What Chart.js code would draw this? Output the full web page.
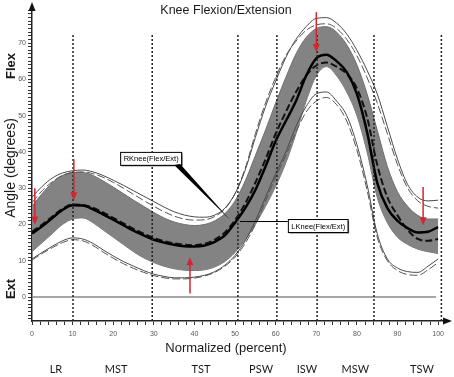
<!DOCTYPE html>
<html>
<head>
<meta charset="utf-8">
<script src="https://cdn.jsdelivr.net/npm/chart.js@4.4.0/dist/chart.umd.min.js"></script>
<style>
html, body { margin: 0; padding: 0; background: #fff; }
#wrap { width: 454px; height: 377px; }
</style>
</head>
<body>
<div id="wrap"><canvas id="knee" width="454" height="377"></canvas></div>
<script>
// gait cycle, percent
const pct = [0, 2.5, 5, 7.5, 10, 12.5, 15, 17.5, 20, 22.5, 25, 27.5, 30, 32.5, 35, 37.5, 40, 42.5, 45, 47.5,
  50, 52.5, 55, 57.5, 60, 62.5, 65, 67.5, 70, 72.5, 75, 77.5, 80, 82.5, 85, 87.5, 90, 92.5, 95, 97.5, 100];

// right knee (thick solid) and left knee (thick dashed)
const rKnee = [17.5, 19.5, 21.8, 24, 25.3, 25.2, 24.2, 22.8, 21.3, 19.8, 18.3, 17, 15.8, 15, 14.4, 14, 13.9, 14.2, 15.2, 17,
  20.5, 24.5, 29.5, 36, 43, 48.5, 54, 61, 65.8, 66.8, 65, 62, 56, 45.5, 31.5, 24.5, 21, 19, 17.8, 18, 19.3];
const lKnee = [18, 20, 22.2, 24.3, 25.5, 25.4, 24.6, 23.3, 21.8, 20.3, 18.8, 17.5, 16.3, 15.4, 14.8, 14.4, 14.3, 14.7, 15.8, 17.8,
  21.2, 25.8, 31.5, 38, 45, 51, 56.5, 61, 63.8, 64.6, 63.5, 61.5, 57.5, 49.5, 36.5, 27.5, 22.5, 18.5, 16, 15.5, 16];

// normal band (grey)
const bandHi = [25, 28.5, 31.5, 33.5, 34.3, 34.3, 33.5, 32, 30.3, 28.5, 26.7, 25, 23.3, 21.8, 20.7, 20, 19.7, 20, 21, 23,
  26.5, 32, 39, 46, 53.5, 60.5, 67, 71.5, 74, 74.5, 73, 69.5, 64, 56, 46, 36, 29, 25, 22.5, 21.5, 21.5];
const bandLo = [12.5, 15, 17.5, 20, 21.5, 21.8, 20.5, 18.5, 16.5, 14.5, 12.5, 10.8, 9.5, 8.5, 7.8, 7.4, 7.3, 7.5, 8.3, 9.8,
  12.3, 15.8, 20, 25, 30.5, 37, 45, 54, 61, 63.5, 61, 56.5, 50, 40, 27.5, 20.5, 16.5, 14.5, 13.2, 12.5, 12];

// thin outer curves
const outerHi = [27.5, 30.5, 32.8, 34.2, 34.8, 35, 34.5, 33.5, 32.2, 30.8, 29.3, 27.8, 26.3, 24.8, 23.5, 22.6, 22.1, 22, 22.6, 24.5,
  28.5, 35, 44, 52.5, 59.5, 66, 71, 74.5, 76.8, 77, 75.5, 72.5, 68, 62.5, 56, 47, 38, 31, 27.5, 26.5, 26.7];
const outerHiDash = [26, 29.3, 31.8, 33.5, 34.3, 34.5, 34, 33, 31.6, 30, 28.3, 26.6, 25, 23.5, 22.3, 21.5, 21.2, 21.3, 22.2, 24.3,
  28.5, 35.5, 45, 53.5, 60.5, 66.5, 70.5, 73.5, 75, 75.3, 74, 71, 66.5, 60.5, 53.5, 45, 36.5, 30, 26.5, 25, 24.5];
const outerLo = [10.5, 12.3, 14, 15.5, 16.3, 16, 14.8, 13, 11.3, 9.8, 8.5, 7.3, 6.3, 5.7, 5.3, 5.3, 5.5, 6, 7, 8.8,
  11.5, 15.5, 21, 27.5, 34, 40, 47, 52.5, 56, 56.5, 54, 50, 42, 31, 17.5, 10.5, 8, 7, 6.8, 8.5, 10.5];
const outerLoDash = [10.2, 12, 13.6, 15, 15.8, 15.5, 14.2, 12.4, 10.7, 9.2, 7.9, 6.8, 5.9, 5.3, 5, 5, 5.2, 5.8, 6.8, 8.5,
  11, 14.8, 20, 26.5, 33, 39, 45.5, 51, 54, 55, 53, 48.5, 40.5, 29.5, 16.5, 10, 7.3, 6.2, 6, 7.5, 9.5];

// gait phase boundaries and names
const phaseX = [10.1, 29.6, 50.7, 60.3, 70.2, 84.2, 100.8];
const phaseNames = ['LR', 'MST', 'TST', 'PSW', 'ISW', 'MSW', 'TSW'];
const phaseNameX = [5.9, 20.7, 41.6, 56.4, 67.7, 79.6, 96];

// red arrows
const arrowX = [0.7, 10.3, 38.9, 70.0, 96.3];
const arrowFrom = [30, 38, 1, 78.5, 30.3];
const arrowTo = [20, 26.7, 11, 67.5, 19.8];

const yMin = -6.6, yMax = 79.1, xMax = 101.2, phaseTop = 72.7;

function pts(ys) { return pct.map((x, i) => ({x: x, y: ys[i]})); }

function curve(label, ys, color, width, dash, order) {
  return {
    label: label, data: pts(ys), borderColor: color, borderWidth: width,
    borderDash: dash || [], pointRadius: 0, fill: false,
    cubicInterpolationMode: 'monotone', order: order
  };
}

const datasets = [
  {label: 'band hi', data: pts(bandHi), borderColor: '#6e6e6e', borderWidth: 1, pointRadius: 0,
   backgroundColor: '#838383', fill: '+1', cubicInterpolationMode: 'monotone', order: 10},
  {label: 'band lo', data: pts(bandLo), borderColor: '#6e6e6e', borderWidth: 1, pointRadius: 0,
   fill: false, cubicInterpolationMode: 'monotone', order: 10},
  {label: 'zero', data: [{x: 0, y: 0}, {x: 99.5, y: 0}], borderColor: '#8a8a8a', borderWidth: 1.5,
   pointRadius: 0, fill: false, order: 9},
  curve('outer hi', outerHi, '#4a4a4a', 1, null, 5),
  curve('outer hi dash', outerHiDash, '#555', 1, [8, 3], 5),
  curve('outer lo', outerLo, '#4a4a4a', 1, null, 5),
  curve('outer lo dash', outerLoDash, '#555', 1, [8, 3], 5),
  curve('LKnee(Flex/Ext)', lKnee, '#111', 2, [7, 3], 3),
  curve('RKnee(Flex/Ext)', rKnee, '#000', 2.5, null, 2)
];
phaseX.forEach(px => {
  datasets.push({label: 'phase', data: [{x: px, y: yMin}, {x: px, y: phaseTop}], borderColor: '#222',
    borderWidth: 1.5, borderDash: [2, 2], pointRadius: 0, fill: false, order: 1});
});

function drawText(ctx, text, x, y, font, color, angle) {
  ctx.save();
  ctx.translate(x, y);
  if (angle) ctx.rotate(angle);
  ctx.font = font;
  ctx.fillStyle = color;
  ctx.textAlign = 'center';
  ctx.textBaseline = 'middle';
  ctx.fillText(text, 0, 0);
  ctx.restore();
}

function labelBox(ctx, text, left, top) {
  ctx.font = '7.5px "Liberation Sans", Arial, sans-serif';
  const w = ctx.measureText(text).width + 6, h = 13;
  ctx.fillStyle = '#777';
  ctx.fillRect(left + 1.5, top + 1.5, w, h);
  ctx.fillStyle = '#fff';
  ctx.fillRect(left, top, w, h);
  ctx.strokeStyle = '#000';
  ctx.lineWidth = 1;
  ctx.strokeRect(left + 0.5, top + 0.5, w, h);
  ctx.fillStyle = '#000';
  ctx.textAlign = 'left';
  ctx.textBaseline = 'middle';
  ctx.fillText(text, left + 3.5, top + h / 2 + 1);
  return {w: w, h: h};
}

const overlay = {
  id: 'overlay',
  afterDraw(chart) {
    const ctx = chart.ctx, a = chart.chartArea, x = chart.scales.x, y = chart.scales.y;
    ctx.save();
    // axis arrow heads
    ctx.fillStyle = '#111';
    ctx.beginPath();
    ctx.moveTo(a.left, a.top - 8); ctx.lineTo(a.left - 3.5, a.top + 1); ctx.lineTo(a.left + 3.5, a.top + 1);
    ctx.closePath(); ctx.fill();
    ctx.beginPath();
    ctx.moveTo(a.right + 9, a.bottom); ctx.lineTo(a.right, a.bottom - 3.5); ctx.lineTo(a.right, a.bottom + 3.5);
    ctx.closePath(); ctx.fill();

    // red arrows
    ctx.strokeStyle = '#d32630';
    ctx.fillStyle = '#d32630';
    ctx.lineWidth = 1.5;
    arrowX.forEach((ax, i) => {
      const px = x.getPixelForValue(ax);
      const p0 = y.getPixelForValue(arrowFrom[i]);
      const p1 = y.getPixelForValue(arrowTo[i]);
      const dir = p1 > p0 ? 1 : -1;
      ctx.beginPath();
      ctx.moveTo(px, p0); ctx.lineTo(px, p1 - dir * 6);
      ctx.stroke();
      ctx.beginPath();
      ctx.moveTo(px, p1); ctx.lineTo(px - 3.5, p1 - dir * 8); ctx.lineTo(px + 3.5, p1 - dir * 8);
      ctx.closePath(); ctx.fill();
    });

    // curve labels
    const rb = labelBox(ctx, 'RKnee(Flex/Ext)', x.getPixelForValue(21.7), y.getPixelForValue(40));
    const rRight = x.getPixelForValue(21.7) + rb.w, rBottom = y.getPixelForValue(40) + rb.h;
    ctx.fillStyle = '#000';
    ctx.beginPath();
    ctx.moveTo(rRight - 7, rBottom); ctx.lineTo(rRight - 1, rBottom - 1);
    ctx.lineTo(x.getPixelForValue(48.8), y.getPixelForValue(21.2));
    ctx.closePath(); ctx.fill();

    const lLeft = x.getPixelForValue(63), lTop = y.getPixelForValue(21.5);
    ctx.strokeStyle = '#000';
    ctx.lineWidth = 1;
    ctx.beginPath();
    ctx.moveTo(x.getPixelForValue(51.2), lTop + 2.5); ctx.lineTo(lLeft, lTop + 2.5);
    ctx.stroke();
    labelBox(ctx, 'LKnee(Flex/Ext)', lLeft, lTop);

    // titles
    const f = '"Liberation Sans", Arial, sans-serif';
    drawText(ctx, 'Knee Flexion/Extension', 226, 11, '12.5px ' + f, '#1a1a1a');
    drawText(ctx, 'Normalized (percent)', 226, 348, '13px ' + f, '#1a1a1a');
    drawText(ctx, 'Angle (degrees)', 11, 168, '14px ' + f, '#1a1a1a', -Math.PI / 2);
    drawText(ctx, 'Flex', 11, 66, 'bold 13px ' + f, '#1a1a1a', -Math.PI / 2);
    drawText(ctx, 'Ext', 11, 289, 'bold 13px ' + f, '#1a1a1a', -Math.PI / 2);
    phaseNames.forEach((n, i) => {
      drawText(ctx, n, x.getPixelForValue(phaseNameX[i]), 369, '11px Lato, "Open Sans", sans-serif', '#1a1a1a');
    });
    ctx.restore();
  }
};

new Chart(document.getElementById('knee'), {
  type: 'line',
  data: {datasets: datasets},
  options: {
    responsive: false,
    animation: false,
    layout: {padding: {left: 0, right: 11, top: 10, bottom: 0}},
    plugins: {legend: {display: false}, tooltip: {enabled: false}, title: {display: false}},
    scales: {
      x: {
        type: 'linear', min: 0, max: xMax,
        afterFit: s => { s.height = 56; },
        border: {display: true, color: '#222', width: 1.5},
        grid: {display: true, drawOnChartArea: false, drawTicks: true, tickLength: 4, color: '#333'},
        ticks: {stepSize: 2, autoSkip: false, includeBounds: false, maxRotation: 0, padding: 5,
          color: '#555', font: {size: 7, family: '"Liberation Sans", Arial, sans-serif'},
          callback: v => (v % 10 === 0 ? v : '')}
      },
      y: {
        type: 'linear', min: yMin, max: yMax,
        afterFit: s => { s.width = 32; },
        border: {display: true, color: '#222', width: 1.5},
        grid: {display: true, drawOnChartArea: false, drawTicks: true, tickLength: 4, color: '#333'},
        ticks: {stepSize: 1, autoSkip: false, includeBounds: false, padding: 2,
          color: '#555', font: {size: 7, family: '"Liberation Sans", Arial, sans-serif'},
          callback: v => (v % 10 === 0 ? v : '')}
      }
    }
  },
  plugins: [overlay]
});
</script>
</body>
</html>
